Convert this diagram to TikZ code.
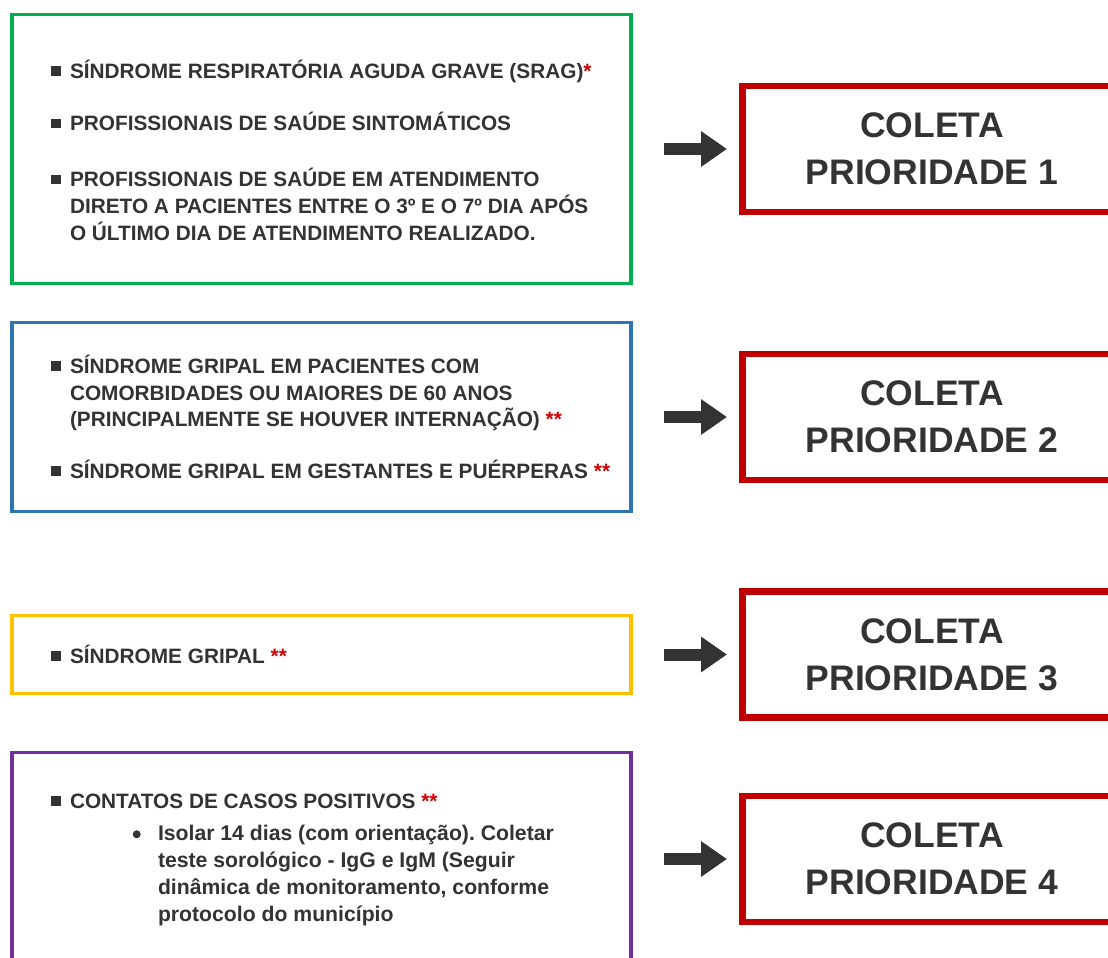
\documentclass[tikz,border=0pt]{standalone}
\usepackage{fontspec}
\setmainfont{Liberation Sans}
\usetikzlibrary{arrows.meta}
\frenchspacing
\definecolor{txt}{HTML}{333333}
\definecolor{gGreen}{HTML}{00B050}
\definecolor{bBlue}{HTML}{2E75B6}
\definecolor{yYellow}{HTML}{FFC000}
\definecolor{pPurple}{HTML}{7030A0}
\definecolor{prioRed}{HTML}{C00000}
\definecolor{starRed}{HTML}{CC0000}
\newcommand\sqb{\llap{\textcolor{txt}{\rule[2.5pt]{10pt}{9.5pt}}\hspace{9.3pt}}}
\newcommand\stars[1]{\textcolor{starRed}{#1}}
\tikzset{
  every node/.style={inner sep=0pt, outer sep=0pt},
  itembox/.style={draw, line width=3.5pt, minimum width=619pt},
  prio/.style={draw=prioRed, line width=6.5pt, minimum width=379pt, minimum height=126pt,
    align=center, font=\fontsize{35.5}{46.7}\selectfont\bfseries, text=txt},
  itemline/.style={anchor=base west, font=\fontsize{20.8}{26.7}\selectfont\bfseries, text=txt},
  subline/.style={anchor=base west, font=\fontsize{21.2}{27}\selectfont\bfseries, text=txt},
  flow/.style={-{Triangle[length=26pt,width=34pt]}, line width=12pt, draw=txt,
    shorten <=33pt, shorten >=15.5pt}
}
\begin{document}
\begin{tikzpicture}[x=1pt,y=-1pt]
\useasboundingbox (0,0) rectangle (1108,958);
\fill[white] (0,0) rectangle (1108,958);
\begin{scope}
\clip (0,0) rectangle (1108,958);
% left boxes
\node[itembox, draw=gGreen, minimum height=269pt] (g) at (321.5,149) {};
\node[itembox, draw=bBlue, minimum height=189pt] (b) at (321.5,417) {};
\node[itembox, draw=yYellow, minimum height=78pt] (y) at (321.5,654.5) {};
\node[itembox, draw=pPurple, minimum height=213.4pt] (p) at (321.5,859) {};
% priority boxes
\node[prio] (r1) at (932,149) {COLETA\\PRIORIDADE 1};
\node[prio] (r2) at (932,417) {COLETA\\PRIORIDADE 2};
\node[prio] (r3) at (932,654.5) {COLETA\\PRIORIDADE 3};
\node[prio] (r4) at (932,859) {COLETA\\PRIORIDADE 4};
\end{scope}
% green text
\node[itemline] (g1) at (70,78.3) {\sqb SÍNDROME RESPIRATÓRIA AGUDA GRAVE (SRAG)\stars{*}};
\node[itemline] (g2) at (70,130.7) {\sqb PROFISSIONAIS DE SAÚDE SINTOMÁTICOS};
\node[itemline] (g3) at (70,186.7) {\sqb PROFISSIONAIS DE SAÚDE EM ATENDIMENTO};
\node[itemline] (g4) at (70,213.3) {DIRETO A PACIENTES ENTRE O 3º E O 7º DIA APÓS};
\node[itemline] (g5) at (70,240) {O ÚLTIMO DIA DE ATENDIMENTO REALIZADO.};
% blue text
\node[itemline] (b1) at (70,373.3) {\sqb SÍNDROME GRIPAL EM PACIENTES COM};
\node[itemline] (b2) at (70,400) {COMORBIDADES OU MAIORES DE 60 ANOS};
\node[itemline] (b3) at (70,426.7) {(PRINCIPALMENTE SE HOUVER INTERNAÇÃO) \stars{**}};
\node[itemline] (b4) at (70,478.3) {\sqb SÍNDROME GRIPAL EM GESTANTES E PUÉRPERAS \stars{**}};
% yellow text
\node[itemline] (y1) at (70,663.3) {\sqb SÍNDROME GRIPAL \stars{**}};
% purple text
\node[itemline] (p1) at (70,808.3) {\sqb CONTATOS DE CASOS POSITIVOS \stars{**}};
\fill[txt] (136.7,834.3) circle (4pt);
\node[subline] (p2) at (158,840) {Isolar 14 dias (com orientação). Coletar};
\node[subline] (p3) at (158,867) {teste sorológico - IgG e IgM (Seguir};
\node[subline] (p4) at (158,894) {dinâmica de monitoramento, conforme};
\node[subline] (p5) at (158,921) {protocolo do município};
% arrows
\draw[flow] (g.east) -- (r1.west);
\draw[flow] (b.east) -- (r2.west);
\draw[flow] (y.east) -- (r3.west);
\draw[flow] (p.east) -- (r4.west);
\end{tikzpicture}
\end{document}
